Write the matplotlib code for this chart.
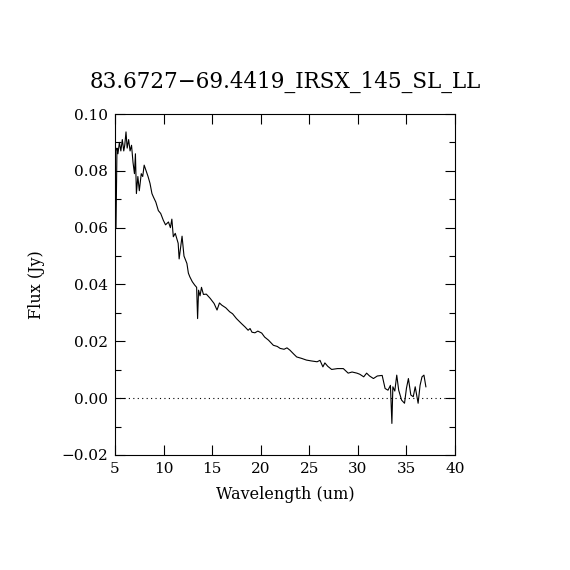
import numpy as np
import matplotlib.pyplot as plt
from matplotlib.ticker import MultipleLocator

# spectrum
wave = [5.1, 5.2, 5.3, 5.45, 5.6, 5.75, 5.9, 6.0, 6.13, 6.25, 6.4, 6.55, 6.7, 6.85,
        7.0, 7.1, 7.2, 7.35, 7.5, 7.7, 7.85, 8.0, 8.2, 8.4, 8.6, 8.8, 8.95, 9.2,
        9.46, 9.7, 9.97, 10.2, 10.5, 10.7, 10.85, 11.0, 11.2, 11.5, 11.6, 11.75,
        11.9, 12.1, 12.4, 12.55, 12.7, 12.95, 13.2, 13.4, 13.5, 13.6, 13.75, 13.9,
        14.1, 14.4, 14.8, 15.2, 15.5, 15.75, 16.0, 16.4, 16.8, 17.1, 17.5, 18.0,
        18.4, 18.7, 18.9, 19.1, 19.4, 19.7, 20.1, 20.4, 20.8, 21.3, 21.7, 22.0,
        22.4, 22.7, 23.0, 23.4, 23.7, 24.2, 24.7, 25.2, 25.8, 26.1, 26.4, 26.6,
        26.9, 27.3, 27.9, 28.5, 29.0, 29.4, 29.9, 30.2, 30.6, 30.9, 31.2, 31.6,
        32.0, 32.5, 32.8, 33.1, 33.35, 33.5, 33.6, 33.8, 34.0, 34.2, 34.5, 34.8,
        35.0, 35.2, 35.45, 35.7, 35.9, 36.2, 36.4, 36.6, 36.8, 37.0]
flux = [0.060, 0.088, 0.086, 0.090, 0.087, 0.091, 0.087, 0.089, 0.0937, 0.088,
        0.091, 0.087, 0.089, 0.083, 0.079, 0.086, 0.072, 0.078, 0.073, 0.079,
        0.078, 0.082, 0.080, 0.078, 0.0756, 0.072, 0.0708, 0.069, 0.066, 0.065,
        0.0626, 0.061, 0.062, 0.060, 0.063, 0.0568, 0.058, 0.0545, 0.049, 0.053,
        0.057, 0.050, 0.0474, 0.044, 0.0427, 0.041, 0.0398, 0.039, 0.028, 0.038,
        0.036, 0.039, 0.0365, 0.0366, 0.0351, 0.0333, 0.031, 0.0335, 0.0327,
        0.0318, 0.0304, 0.0297, 0.028, 0.0263, 0.025, 0.0239, 0.0245, 0.0232,
        0.023, 0.0236, 0.0229, 0.0215, 0.0204, 0.0186, 0.0182, 0.0175, 0.0172,
        0.0177, 0.0169, 0.0155, 0.0145, 0.014, 0.0134, 0.0131, 0.0128, 0.0133,
        0.011, 0.0124, 0.0112, 0.0101, 0.0104, 0.0104, 0.0088, 0.0092, 0.0088,
        0.0084, 0.0075, 0.0088, 0.0078, 0.0069, 0.0078, 0.008, 0.0034, 0.0028,
        0.0045, -0.0089, 0.004, 0.0025, 0.0081, 0.0028, -0.0007, -0.0018,
        0.0035, 0.0069, 0.0011, 0.0005, 0.004, -0.0018, 0.0045, 0.0075, 0.0081,
        0.004]

plt.rcParams['font.family'] = 'DejaVu Serif'
plt.rcParams['axes.unicode_minus'] = True

fig = plt.figure(figsize=(5.7, 5.7), dpi=100)
ax = fig.add_axes([0.2018, 0.2018, 0.5965, 0.5982])
ax.plot(wave, flux, color='black', lw=0.8)
ax.axhline(0, color='black', ls=(0, (1, 3)), lw=0.8)

ax.set_xlim(5, 40)
ax.set_ylim(-0.02, 0.10)
ax.xaxis.set_major_locator(MultipleLocator(5))
ax.yaxis.set_major_locator(MultipleLocator(0.02))
ax.yaxis.set_minor_locator(MultipleLocator(0.01))
ax.yaxis.set_major_formatter(plt.FuncFormatter(lambda v, p: ('%.2f' % v).replace('-', '\u2212')))
ax.tick_params(which='both', direction='in', top=True, right=True, labelsize=11)
ax.tick_params(which='major', length=7, width=0.8, pad=5)
ax.tick_params(which='minor', length=4, width=0.8)
for s in ax.spines.values():
    s.set_linewidth(0.8)

ax.set_xlabel('Wavelength (um)', fontsize=11.5, labelpad=7)
ax.set_ylabel('Flux (Jy)', fontsize=11.5, labelpad=12)
ax.set_title('83.6727\u221269.4419_IRSX_145_SL_LL', fontsize=15.5, pad=19)
fig.savefig('out.png', dpi=100)
